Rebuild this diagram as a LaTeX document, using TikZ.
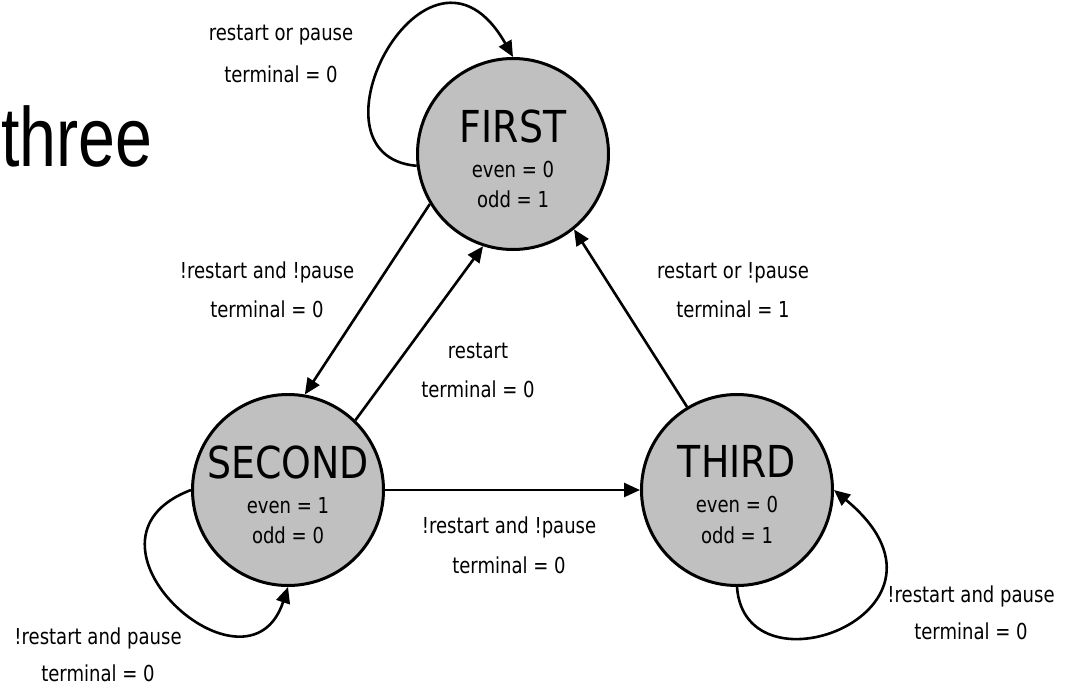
\documentclass[tikz,border=0pt]{standalone}
\usepackage{fontspec}
\setmainfont{DejaVu Sans}[FakeStretch=0.82]
\newfontfamily\titlefont{DejaVu Sans}[FakeStretch=0.86]
\newfontfamily\threefont{Liberation Sans}[FakeStretch=0.79]
\usetikzlibrary{arrows.meta}
\definecolor{stategray}{HTML}{C0C0C0}
\begin{document}
\begin{tikzpicture}[x=1pt,y=-1pt,
  state/.style={circle, draw, line width=3pt, fill=stategray, minimum size=191pt, inner sep=0pt},
  title/.style={font=\titlefont\fontsize{44}{44}\selectfont, anchor=base, inner sep=0pt},
  small/.style={font=\fontsize{22}{22}\selectfont, anchor=base, inner sep=0pt},
  edge/.style={line width=2.6pt, -{Triangle[length=16pt,width=14pt]}}]
\useasboundingbox (0,0) rectangle (1071,686);

\node[anchor=base west, inner sep=0pt, font=\threefont\fontsize{84}{84}\selectfont] (three) at (1,166) {three};

\node[state] (first) at (513,154) {};
\node[state] (second) at (288,490) {};
\node[state] (third) at (737,490) {};

\node[title] (firstT) at (513,142) {FIRST};
\node[small] (firstE) at (513,177) {even = 0};
\node[small] (firstO) at (513,207) {odd = 1};

\node[title] (secondT) at (288,478) {SECOND};
\node[small] (secondE) at (288,513) {even = 1};
\node[small] (secondO) at (288,543) {odd = 0};

\node[title] (thirdT) at (737,477) {THIRD};
\node[small] (thirdE) at (737,512) {even = 0};
\node[small] (thirdO) at (737,543) {odd = 1};

% edges
\draw[edge] (first.187) .. controls +(-120,-10) and +(-85,-150) .. (first.90);
\draw[edge] (first.211) -- (second.80);
\draw[edge] (second.46) -- (first.252);
\draw[edge] (third.121) -- (first.309);
\draw[edge] (second.0) -- (third.180);
\draw[edge] (second.180) .. controls +(-132,50) and +(-40,122) .. (second.270);
\draw[edge] (third.270) .. controls +(8,113) and +(145,120) .. (third.0);

% labels
\node[small] (l1a) at (281,40) {restart or pause};
\node[small] (l1b) at (281,82) {terminal = 0};
\node[small] (l2a) at (267,278) {!restart and !pause};
\node[small] (l2b) at (267,317) {terminal = 0};
\node[small] (l3a) at (478,358) {restart};
\node[small] (l3b) at (478,397) {terminal = 0};
\node[small] (l4a) at (733,278) {restart or !pause};
\node[small] (l4b) at (733,317) {terminal = 1};
\node[small] (l5a) at (509,533) {!restart and !pause};
\node[small] (l5b) at (509,573) {terminal = 0};
\node[small] (l6a) at (98,644) {!restart and pause};
\node[small] (l6b) at (98,681) {terminal = 0};
\node[small] (l7a) at (971,602) {!restart and pause};
\node[small] (l7b) at (971,639) {terminal = 0};
\end{tikzpicture}
\end{document}
